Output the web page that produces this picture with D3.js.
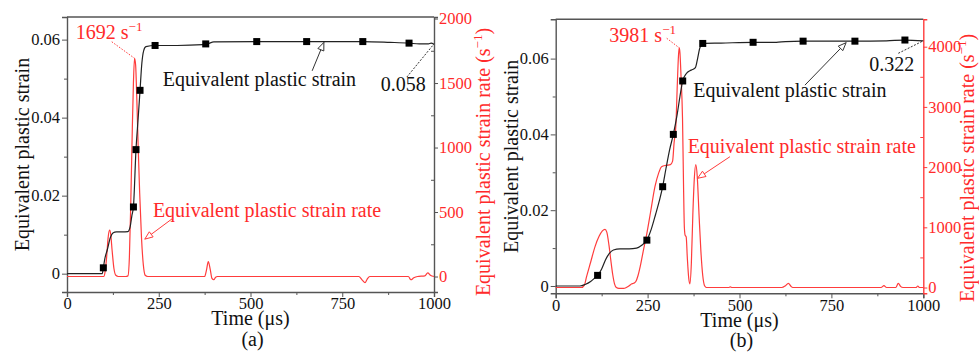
<!DOCTYPE html>
<html>
<head>
<meta charset="utf-8">
<script src="https://cdn.jsdelivr.net/npm/d3@7/dist/d3.min.js"></script>
<style>
  html, body { margin: 0; padding: 0; background: #fff; }
  svg { display: block; font-family: "Liberation Serif", "Times New Roman", serif; }
</style>
</head>
<body>
<svg id="chart" width="979" height="352"></svg>
<script>
// ---- data -------------------------------------------------------------
const timeTicks = [0, 250, 500, 750, 1000];
const timeMinor = [125, 375, 625, 875];
const strainTicks = [0, 0.02, 0.04, 0.06];
const strainMinor = [0.01, 0.03, 0.05];
const rateTicksA = [0, 500, 1000, 1500, 2000];
const rateMinorA = [250, 750, 1250, 1750];
const rateTicksB = [0, 1000, 2000, 3000, 4000];
const rateMinorB = [500, 1500, 2500, 3500];

// (a) equivalent plastic strain vs time (µs)
const strainA = [
  [0, 0], [96, 0], [99, 0.0015], [103, 0.0038], [110, 0.0062], [118, 0.0092], [125, 0.0104],
  [135, 0.0107], [150, 0.0107], [166, 0.0108], [172, 0.0120], [177, 0.0150], [181, 0.0171],
  [188, 0.0318], [194, 0.0400], [199, 0.0470], [204, 0.0540], [209, 0.0572], [215, 0.0582],
  [240, 0.0585], [300, 0.0585], [370, 0.0587], [385, 0.0590], [400, 0.0594], [517, 0.0595],
  [653, 0.0595], [806, 0.0595], [880, 0.0593], [932, 0.0591], [960, 0.0589], [985, 0.0589],
  [992, 0.0591], [1000, 0.0588]
];
const markerTimesA = [99, 181, 188, 199, 240, 378, 517, 653, 806, 932];
const markerStrainA = [0.0015, 0.0171, 0.0318, 0.0470, 0.0585, 0.0589, 0.0595, 0.0595, 0.0595, 0.0591];

// (a) equivalent plastic strain rate (1/s) vs time (µs)
const rateA = [
  [0, 0], [100, 0], [104, 40], [108, 150], [112, 300], [116, 360], [119, 330], [123, 200],
  [128, 60], [133, 10], [140, 0], [160, 0], [166, 5], [170, 150], [174, 600], [178, 1150],
  [181, 1500], [184, 1692], [187, 1640], [190, 1400], [194, 1000], [198, 650], [203, 300],
  [208, 90], [213, 10], [220, 0], [375, 0], [380, 50], [385, 116], [390, 60], [395, -15],
  [400, -25], [405, -5], [410, 0], [795, 0], [805, -30], [812, -47], [818, -20], [825, 0],
  [930, 0], [937, -25], [945, -10], [955, 0], [975, 5], [983, 28], [990, 10], [1000, 0]
];

// (b) equivalent plastic strain vs time (µs)
const strainB = [
  [0, 0], [66, 0], [80, 0.0004], [95, 0.0012], [105, 0.0020], [114, 0.0028], [125, 0.0045],
  [135, 0.0068], [145, 0.0085], [157, 0.0095], [175, 0.0098], [200, 0.0098], [220, 0.0100],
  [235, 0.0108], [248, 0.0121], [260, 0.0150], [272, 0.0190], [282, 0.0225], [291, 0.0262],
  [300, 0.0310], [310, 0.0360], [320, 0.0400], [330, 0.0450], [338, 0.0500], [345.5, 0.0541],
  [355, 0.0560], [365, 0.0568], [372, 0.0571], [380, 0.0576], [386, 0.0600], [392, 0.0628],
  [398, 0.0638], [400, 0.0640], [450, 0.0641], [537, 0.0643], [600, 0.0643], [625, 0.0645],
  [673, 0.0646], [814, 0.0646], [900, 0.0647], [950, 0.0649], [1000, 0.0647]
];
const markerTimesB = [114, 248, 291, 320, 345.5, 400, 537, 673, 814, 950];
const markerStrainB = [0.0028, 0.0121, 0.0262, 0.0400, 0.0541, 0.0640, 0.0643, 0.0646, 0.0646, 0.0649];

// (b) equivalent plastic strain rate (1/s) vs time (µs)
const rateB = [
  [0, 0], [70, 0], [78, 40], [84, 180], [95, 420], [107, 680], [118, 850], [127, 940],
  [134, 967], [139, 920], [145, 700], [150, 450], [155, 220], [160, 60], [165, 0], [172, -15],
  [185, -15], [192, 0], [200, 30], [206, 60], [212, 70], [218, 100], [224, 200], [230, 350],
  [238, 600], [248, 900], [258, 1250], [270, 1675], [280, 1900], [288, 2007], [300, 2030],
  [312, 2040], [318, 2100], [322, 2400], [327, 2700], [331, 3400], [334, 3850], [336, 3981],
  [338, 3900], [341, 3500], [345, 2800], [348, 1600], [350, 1000], [352, 870], [355, 840],
  [358, 500], [362, 150], [365, 60], [369, 400], [373, 1200], [377, 1800], [381, 2040],
  [385, 1850], [390, 1200], [395, 600], [400, 200], [405, 30], [410, 0], [470, 0], [475, 10],
  [480, 0], [615, 0], [625, 30], [633, 70], [640, 20], [645, 0], [885, 0], [893, 30], [900, 0],
  [925, 0], [932, 70], [938, 20], [945, 0], [980, 0], [985, 25], [990, 0], [1000, 0]
];

// ---- style ------------------------------------------------------------
const FONT = "Liberation Serif, Times New Roman, serif";
const RED = "#ff2a2a";
const RED_LINE = "#ff3c3c";
const DARK = "#222";
const AXIS = "#555";

const svg = d3.select("#chart");

function supText(sel, main, sup, tail) {
  sel.text(main);
  sel.append("tspan").attr("dy", -8).attr("font-size", 13).text(sup);
  if (tail) sel.append("tspan").attr("dy", 8).text(tail);
}

function arrowHead(g, x1, y1, x2, y2, color) {
  const ang = Math.atan2(y2 - y1, x2 - x1);
  const L = 8, W = 3.2;
  const bx = x2 - L * Math.cos(ang), by = y2 - L * Math.sin(ang);
  const px = -Math.sin(ang) * W, py = Math.cos(ang) * W;
  g.append("path")
    .attr("d", `M${x2},${y2}L${bx + px},${by + py}L${bx - px},${by - py}Z`)
    .attr("fill", "#fff").attr("stroke", color).attr("stroke-width", 1);
}

function drawPanel(p) {
  const x = d3.scaleLinear().domain([0, 1000]).range([p.left, p.right]);
  const yL = d3.scaleLinear().domain(p.strainDomain).range([p.bottom, p.top]);
  const yR = d3.scaleLinear().domain(p.rateDomain).range([p.bottom, p.top]);
  const g = svg.append("g");

  // frame top line
  g.append("line").attr("x1", p.left).attr("x2", p.right).attr("y1", p.top).attr("y2", p.top)
    .attr("stroke", AXIS).attr("stroke-width", 1.4);

  // bottom axis
  const bx = g.append("g").attr("transform", `translate(0,${p.bottom})`)
    .call(d3.axisBottom(x).tickValues(timeTicks).tickSize(5).tickPadding(0.5).tickFormat(d3.format("d")));
  g.append("g").attr("transform", `translate(0,${p.bottom})`)
    .call(d3.axisBottom(x).tickValues(timeMinor).tickSize(3).tickFormat(""))
    .call(a => a.select(".domain").remove())
    .selectAll("line").attr("stroke", AXIS);

  // left axis
  const lx = g.append("g").attr("transform", `translate(${p.left},0)`)
    .call(d3.axisLeft(yL).tickValues(strainTicks).tickSize(5).tickPadding(2)
      .tickFormat(d => d === 0 ? "0" : d3.format(".2f")(d)));
  g.append("g").attr("transform", `translate(${p.left},0)`)
    .call(d3.axisLeft(yL).tickValues(strainMinor).tickSize(3).tickFormat(""))
    .call(a => a.select(".domain").remove())
    .selectAll("line").attr("stroke", AXIS);

  // right axis
  const rx = g.append("g").attr("transform", `translate(${p.right},0)`)
    .call(d3.axisRight(yR).tickValues(p.rateTicks).tickSize(4).tickPadding(1).tickFormat(d3.format("d")));
  g.append("g").attr("transform", `translate(${p.right},0)`)
    .call(d3.axisRight(yR).tickValues(p.rateMinor).tickSize(-3).tickFormat(""))
    .call(a => a.select(".domain").remove())
    .selectAll("line").attr("stroke", p.rightAxisColor);

  [bx, lx].forEach(a => {
    a.select(".domain").attr("stroke", AXIS).attr("stroke-width", 1.4);
    a.selectAll(".tick line").attr("stroke", AXIS);
    a.selectAll("text").attr("fill", "#111").attr("font-size", 16.5);
  });
  rx.select(".domain").attr("stroke", p.rightAxisColor).attr("stroke-width", 1.4);
  rx.selectAll(".tick line").attr("stroke", p.rightAxisColor);
  rx.selectAll("text").attr("fill", RED).attr("font-size", 16.5);

  // curves
  const lineL = d3.line().x(d => x(d[0])).y(d => yL(d[1])).curve(d3.curveMonotoneX);
  const lineR = d3.line().x(d => x(d[0])).y(d => yR(d[1])).curve(d3.curveMonotoneX);
  g.append("path").datum(p.rate).attr("d", lineR).attr("fill", "none")
    .attr("stroke", RED_LINE).attr("stroke-width", 1.2);
  g.append("path").datum(p.strain).attr("d", lineL).attr("fill", "none")
    .attr("stroke", DARK).attr("stroke-width", 1.2);

  // square markers
  g.selectAll("rect.m").data(p.markerTimes).enter().append("rect")
    .attr("x", (t) => x(t) - 3.5).attr("y", (t, i) => yL(p.markerStrain[i]) - 3.5)
    .attr("width", 7).attr("height", 7).attr("fill", "#000");

  // axis titles
  g.append("text").attr("transform", `translate(${p.left - 38},${(p.top + p.bottom) / 2}) rotate(-90)`)
    .attr("text-anchor", "middle").attr("font-size", 20).attr("fill", "#111")
    .text("Equivalent plastic strain");
  const rt = g.append("text").attr("transform", `translate(${p.right + p.rateTitleDx},${p.rateTitleY}) rotate(-90)`)
    .attr("text-anchor", "middle").attr("font-size", 20).attr("fill", RED);
  supText(rt, "Equivalent plastic strain rate (s", "\u22121", ")");
  g.append("text").attr("x", x(500)).attr("y", p.timeTitleY)
    .attr("text-anchor", "middle").attr("font-size", 20).attr("fill", "#111").text("Time (\u03bcs)");
  g.append("text").attr("x", x(500) + 2).attr("y", p.panelY)
    .attr("text-anchor", "middle").attr("font-size", 20).attr("fill", "#111").text(p.panel);

  // peak value label with dotted leader
  const pk = p.peak;
  g.append("line").attr("x1", x(pk.from[0])).attr("y1", yR(pk.from[1]))
    .attr("x2", x(pk.t)).attr("y2", yR(pk.v))
    .attr("stroke", RED_LINE).attr("stroke-width", 1).attr("stroke-dasharray", "1.5,1.5");
  const pt = g.append("text").attr("x", x(pk.text[0])).attr("y", yR(pk.text[1]))
    .attr("font-size", 20).attr("fill", RED);
  supText(pt, pk.v + " s", "\u22121");

  // final strain label with dashed leader
  const fv = p.final;
  g.append("line").attr("x1", x(fv.from[0])).attr("y1", yL(fv.from[1]))
    .attr("x2", x(fv.to[0])).attr("y2", yL(fv.to[1]))
    .attr("stroke", "#333").attr("stroke-width", 1).attr("stroke-dasharray", "2,1.5");
  g.append("text").attr("x", x(fv.text[0])).attr("y", yL(fv.text[1]))
    .attr("font-size", 20).attr("fill", "#111").text(fv.label);

  // series labels with open-head arrows
  const sl = p.strainLabel;
  g.append("text").attr("x", x(sl.text[0])).attr("y", yL(sl.text[1]))
    .attr("font-size", 20).attr("fill", "#111").text("Equivalent plastic strain");
  const sx1 = x(sl.from[0]), sy1 = yL(sl.from[1]), sx2 = x(sl.to[0]), sy2 = yL(sl.to[1]);
  g.append("line").attr("x1", sx1).attr("y1", sy1).attr("x2", sx2).attr("y2", sy2)
    .attr("stroke", "#333").attr("stroke-width", 1);
  arrowHead(g, sx1, sy1, sx2, sy2, "#333");

  const rl = p.rateLabel;
  g.append("text").attr("x", x(rl.text[0])).attr("y", yR(rl.text[1]))
    .attr("font-size", 20).attr("fill", RED).text("Equivalent plastic strain rate");
  const rx1 = x(rl.from[0]), ry1 = yR(rl.from[1]), rx2 = x(rl.to[0]), ry2 = yR(rl.to[1]);
  g.append("line").attr("x1", rx1).attr("y1", ry1).attr("x2", rx2).attr("y2", ry2)
    .attr("stroke", RED_LINE).attr("stroke-width", 1);
  arrowHead(g, rx1, ry1, rx2, ry2, RED_LINE);
}

drawPanel({
  panel: "(a)",
  left: 67, right: 434, top: 17, bottom: 292,
  strainDomain: [-0.0047, 0.0658], rateDomain: [-120, 2012],
  rateTicks: rateTicksA, rateMinor: rateMinorA, rightAxisColor: AXIS,
  rateTitleDx: 56, rateTitleY: 162, timeTitleY: 325, panelY: 345.5,
  strain: strainA, rate: rateA, markerTimes: markerTimesA, markerStrain: markerStrainA,
  peak: { t: 184, v: 1692, text: [24, 1841], from: [122, 1820] },
  final: { label: "0.058", text: [855, 0.0468], from: [926, 0.0504], to: [1000, 0.0589] },
  strainLabel: { text: [261, 0.0480], from: [668, 0.0520], to: [700, 0.0593] },
  rateLabel: { text: [234, 463], from: [289, 453], to: [212, 290] }
});

drawPanel({
  panel: "(b)",
  left: 555.7, right: 923.3, top: 19.3, bottom: 293.3,
  strainDomain: [-0.00193, 0.07037], rateDomain: [-96, 4455],
  rateTicks: rateTicksB, rateMinor: rateMinorB, rightAxisColor: RED_LINE,
  rateTitleDx: 51, rateTitleY: 168, timeTitleY: 327, panelY: 347,
  strain: strainB, rate: rateB, markerTimes: markerTimesB, markerStrain: markerStrainB,
  peak: { t: 336, v: 3981, text: [146, 4083], from: [302, 4140] },
  final: { label: "0.322", text: [853, 0.0568], from: [932, 0.0614], to: [1000, 0.0647] },
  strainLabel: { text: [374, 0.04995], from: [678, 0.0530], to: [790, 0.0642] },
  rateLabel: { text: [359, 2229], from: [474, 2173], to: [386, 1814] }
});

// one serif face for every label, including the axis tick text
svg.selectAll("g").attr("font-family", FONT);
svg.selectAll("text").attr("font-family", FONT);
</script>
</body>
</html>
